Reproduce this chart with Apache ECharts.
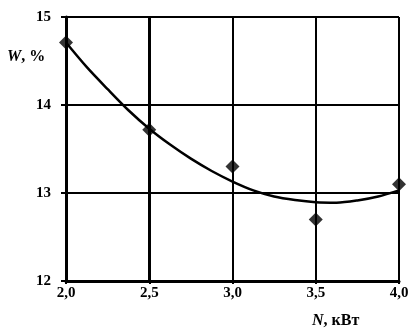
<!DOCTYPE html>
<html><head><meta charset="utf-8">
<script src="https://cdn.jsdelivr.net/npm/echarts@6/dist/echarts.min.js"></script>
<style>html,body{margin:0;padding:0;background:#fff}#c{width:414px;height:334px}</style>
</head><body><div id="c"></div>
<script>
const pointsX = [2.0, 2.5, 3.0, 3.5, 4.0];
const pointsY = [14.71, 13.72, 13.3, 12.7, 13.1];
const trendX = [2.0, 2.125, 2.25, 2.375, 2.5, 2.625, 2.75, 2.875, 3.0, 3.125, 3.25, 3.375, 3.5, 3.625, 3.75, 3.875, 4.0];
const trendY = [14.71, 14.43, 14.18, 13.94, 13.73, 13.55, 13.39, 13.25, 13.13, 13.03, 12.96, 12.92, 12.895, 12.89, 12.915, 12.96, 13.03];
const xTicks = ['2,0', '2,5', '3,0', '3,5', '4,0'];

const chart = echarts.init(document.getElementById('c'), null, {renderer: 'canvas'});
const font = '"Liberation Serif", "Times New Roman", serif';
chart.setOption({
  animation: false,
  backgroundColor: '#fff',
  grid: {left: 66, right: 15, top: 17, bottom: 53},
  xAxis: {
    type: 'value', min: 2, max: 4, interval: 0.5,
    axisLine: {show: true, lineStyle: {color: '#000', width: 3}},
    axisTick: {show: true, inside: false, length: 3, lineStyle: {color: '#000', width: 2}},
    splitLine: {show: true, lineStyle: {color: '#000', width: 2}},
    axisLabel: {
      color: '#000', fontFamily: font, fontSize: 15, fontWeight: 'bold', margin: 5,
      formatter: function (v) { const i = Math.round((v - 2) / 0.5); return xTicks[i] !== undefined ? xTicks[i] : ''; }
    }
  },
  yAxis: {
    type: 'value', min: 12, max: 15, interval: 1,
    axisLine: {show: true, lineStyle: {color: '#000', width: 3}},
    axisTick: {show: true, length: 5, lineStyle: {color: '#000', width: 2}},
    splitLine: {show: true, lineStyle: {color: '#000', width: 2}},
    axisLabel: {color: '#000', fontFamily: font, fontSize: 15, fontWeight: 'bold', margin: 15}
  },
  graphic: [
    {type: 'text', left: 7, top: 49, style: {
      text: '{i|W}{n|, %}', fill: '#000',
      rich: {i: {fontFamily: font, fontSize: 16, fontStyle: 'italic', fontWeight: 'bold'},
             n: {fontFamily: font, fontSize: 16, fontWeight: 'bold'}}}},
    {type: 'text', left: 312, top: 313, style: {
      text: '{i|N}{n|, кВт}', fill: '#000',
      rich: {i: {fontFamily: font, fontSize: 16, fontStyle: 'italic', fontWeight: 'bold'},
             n: {fontFamily: font, fontSize: 16, fontWeight: 'bold'}}}}
  ],
  series: [
    {
      type: 'line', smooth: 0.3, showSymbol: false,
      data: trendX.map((x, i) => [x, trendY[i]]),
      lineStyle: {color: '#000', width: 2.5},
      markLine: {silent: true, symbol: 'none', label: {show: false},
        lineStyle: {color: '#000', width: 3, type: 'solid'}, data: [{xAxis: 2.5}]},
      z: 3
    },
    {
      type: 'scatter', symbol: 'diamond', symbolSize: 14,
      data: pointsX.map((x, i) => [x, pointsY[i]]),
      itemStyle: {color: '#000'}, z: 4
    }
  ]
});
</script></body></html>
